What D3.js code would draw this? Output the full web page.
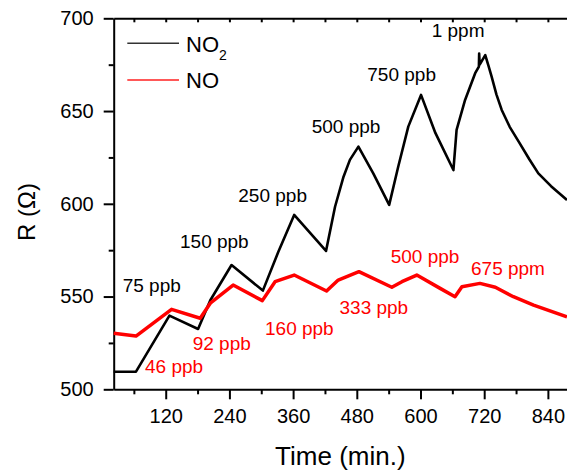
<!DOCTYPE html>
<html>
<head>
<meta charset="utf-8">
<script src="https://cdn.jsdelivr.net/npm/d3@7"></script>
<style>
  body { margin: 0; background: #fff; }
  svg { display: block; font-family: "Liberation Sans", Arial, sans-serif; }
  .axis path, .axis line { stroke: #000; stroke-width: 2; }
  .axis text { font-size: 20px; fill: #000; }
</style>
</head>
<body>
<svg></svg>
<script>
window.onload = () => {

  const width = 567;
  const height = 470;

  // NO2 response (black)
  const no2Time = [22, 64, 127, 181, 204, 244, 303, 332, 362, 422, 439, 455, 467, 483, 511, 541, 558, 577, 601, 628, 662, 668, 684, 703, 710, 710.5, 711.5, 722, 728, 734, 743, 753, 768, 785, 805, 822, 846, 876];
  const no2R = [509.5, 509.5, 539.7, 532.5, 548, 567, 553.2, 574, 594, 574.6, 598.4, 614.6, 623.7, 630.8, 616.4, 599.4, 620, 641.6, 658.7, 638.2, 618.2, 639.8, 656, 670.4, 674, 681, 675, 680.2, 674.5, 668.5, 659, 650.6, 641.5, 633.5, 624, 616.4, 609.5, 602];

  // NO response (red)
  const noTime = [22, 64, 131, 185, 204, 247, 302, 326, 362, 423, 445, 484, 546, 565, 593, 637, 665, 678, 712, 741, 775, 813, 876];
  const noR = [530.2, 528.7, 543.1, 538.3, 546.4, 556.2, 547.8, 558, 561.6, 553, 558.9, 563.4, 555, 558, 561.6, 554.4, 549.9, 555.3, 557.1, 555, 549.9, 545.4, 539.1];

  const xMajor = [120, 240, 360, 480, 600, 720, 840];
  const xMinor = [60, 180, 300, 420, 540, 660, 780];
  const yMajor = [500, 550, 600, 650, 700];
  const yMinor = [525, 575, 625, 675];

  const no2Labels = [
    {text: '75 ppb', x: 122.7, y: 291.7},
    {text: '150 ppb', x: 180, y: 248.3},
    {text: '250 ppb', x: 238.3, y: 201.7},
    {text: '500 ppb', x: 311.7, y: 133.3},
    {text: '750 ppb', x: 367.3, y: 81},
    {text: '1 ppm', x: 431.7, y: 36.5}
  ];
  const noLabels = [
    {text: '46 ppb', x: 145, y: 373},
    {text: '92 ppb', x: 192.7, y: 350},
    {text: '160 ppb', x: 265, y: 335},
    {text: '333 ppb', x: 339.5, y: 313.5},
    {text: '500 ppb', x: 390.7, y: 263},
    {text: '675 ppm', x: 471, y: 275}
  ];

  const no2 = no2Time.map((t, i) => ({t: t, r: no2R[i]}));
  const no = noTime.map((t, i) => ({t: t, r: noR[i]}));

  const left = 113.7, right = 567, top = 18.3, bottom = 389.3;

  const svg = d3.select('svg').attr('width', width).attr('height', height);

  const xScale = d3.scaleLinear().domain([22, 876]).range([left, right]);
  const yScale = d3.scaleLinear().domain([500, 700]).range([bottom, top]);
  const line = d3.line().x(d => xScale(d.t)).y(d => yScale(d.r));

  // bottom axis
  svg.append('g')
      .attr('class', 'axis')
      .attr('transform', 'translate(0,' + bottom + ')')
      .call(d3.axisBottom(xScale).tickValues(xMajor).tickSizeInner(10).tickSizeOuter(0).tickPadding(10));
  svg.append('g')
      .attr('class', 'axis')
      .attr('transform', 'translate(0,' + bottom + ')')
      .call(d3.axisBottom(xScale).tickValues(xMinor).tickSizeInner(5).tickSizeOuter(0).tickFormat(''))
      .select('.domain').remove();

  // top axis, ticks inward
  svg.append('g')
      .attr('class', 'axis')
      .attr('transform', 'translate(0,' + top + ')')
      .call(d3.axisTop(xScale).tickValues(xMajor.concat(xMinor)).tickSizeInner(-4).tickSizeOuter(0).tickFormat(''));

  // left axis
  svg.append('g')
      .attr('class', 'axis')
      .attr('transform', 'translate(' + left + ',0)')
      .call(d3.axisLeft(yScale).tickValues(yMajor).tickSizeInner(10).tickSizeOuter(0).tickPadding(10));
  svg.append('g')
      .attr('class', 'axis')
      .attr('transform', 'translate(' + left + ',0)')
      .call(d3.axisLeft(yScale).tickValues(yMinor).tickSizeInner(5).tickSizeOuter(0).tickFormat(''))
      .select('.domain').remove();

  // series
  svg.append('path')
      .datum(no2)
      .attr('fill', 'none')
      .attr('stroke', '#000')
      .attr('stroke-width', 2.6)
      .attr('stroke-linejoin', 'round')
      .attr('d', line);

  svg.append('path')
      .datum(no)
      .attr('fill', 'none')
      .attr('stroke', '#ff0000')
      .attr('stroke-width', 3.5)
      .attr('stroke-linejoin', 'round')
      .attr('d', line);

  // annotations
  svg.selectAll('.lab2')
      .data(no2Labels)
      .enter().append('text')
      .attr('x', d => d.x).attr('y', d => d.y)
      .attr('font-size', 19)
      .attr('fill', '#000')
      .text(d => d.text);

  svg.selectAll('.lab1')
      .data(noLabels)
      .enter().append('text')
      .attr('x', d => d.x).attr('y', d => d.y)
      .attr('font-size', 19)
      .attr('fill', '#ff0000')
      .text(d => d.text);

  // legend
  svg.append('line').attr('x1', 127.3).attr('x2', 179).attr('y1', 43.3).attr('y2', 43.3)
      .attr('stroke', '#333').attr('stroke-width', 1.5);
  svg.append('line').attr('x1', 127.3).attr('x2', 179).attr('y1', 80).attr('y2', 80)
      .attr('stroke', '#ff2020').attr('stroke-width', 1.5);

  const t1 = svg.append('text').attr('x', 186).attr('y', 52.3).attr('font-size', 22);
  t1.append('tspan').text('NO');
  t1.append('tspan').attr('font-size', 14).attr('dy', 8).text('2');
  svg.append('text').attr('x', 186).attr('y', 88.3).attr('font-size', 22).text('NO');

  // axis titles
  svg.append('text')
      .attr('x', (left + right) / 2)
      .attr('y', 465)
      .attr('text-anchor', 'middle')
      .attr('font-size', 26)
      .text('Time (min.)');

  svg.append('text')
      .attr('transform', 'translate(35,212) rotate(-90)')
      .attr('text-anchor', 'middle')
      .attr('font-size', 24)
      .text('R (\u03A9)');

};
</script>
</body>
</html>
